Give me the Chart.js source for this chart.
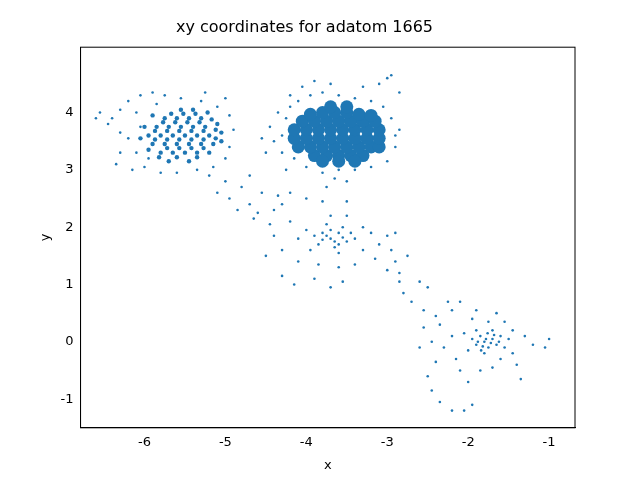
<!DOCTYPE html>
<html><head><meta charset="utf-8">
<script src="https://cdn.jsdelivr.net/npm/chart.js@4/dist/chart.umd.min.js"></script>
<style>html,body{margin:0;background:#fff}#w{width:640px;height:480px}</style>
</head><body><div id="w"><canvas id="c"></canvas></div>
<script>
const title = "xy coordinates for adatom 1665";
const xTicks = [-6,-5,-4,-3,-2,-1];
const yTicks = [-1,0,1,2,3,4];
// dense core of the big cluster (drawn with larger markers)
const corePoints = [
[-3.9,3.25],[-3.75,3.25],[-3.6,3.25],[-3.45,3.25],[-3.3,3.25],[-3.8,3.15],[-3.6,3.15],[-3.4,3.15],
[-4.1,3.4],[-3.95,3.4],[-3.8,3.4],[-3.65,3.4],[-3.5,3.4],[-3.35,3.4],[-3.2,3.4],[-3.1,3.4],
[-4.15,3.55],[-4.0,3.55],[-3.85,3.55],[-3.7,3.55],[-3.55,3.55],[-3.4,3.55],[-3.25,3.55],[-3.1,3.55],
[-4.15,3.7],[-4.0,3.7],[-3.85,3.7],[-3.7,3.7],[-3.55,3.7],[-3.4,3.7],[-3.25,3.7],[-3.1,3.7],
[-4.05,3.85],[-3.9,3.85],[-3.75,3.85],[-3.6,3.85],[-3.45,3.85],[-3.3,3.85],[-3.15,3.85],
[-3.95,3.97],[-3.8,4.0],[-3.65,4.0],[-3.5,4.0],[-3.35,3.97],[-3.2,3.95],[-3.7,4.1],[-3.5,4.1]];
// left cluster, medium density core
const leftCore = [
[-5.8,3.3],[-5.65,3.3],[-5.5,3.3],[-5.35,3.3],[-5.2,3.3],
[-5.9,3.45],[-5.75,3.45],[-5.6,3.45],[-5.45,3.45],[-5.3,3.45],[-5.15,3.45],[-5.05,3.5],
[-5.95,3.6],[-5.8,3.6],[-5.65,3.6],[-5.5,3.6],[-5.35,3.6],[-5.2,3.6],[-5.05,3.65],
[-5.85,3.75],[-5.7,3.75],[-5.55,3.75],[-5.4,3.75],[-5.25,3.75],[-5.1,3.8],
[-5.75,3.9],[-5.6,3.9],[-5.45,3.9],[-5.3,3.9],[-5.55,4.05],[-5.4,4.05],[-5.7,3.15],[-5.45,3.15],
[-5.72,3.38],[-5.57,3.38],[-5.42,3.38],[-5.27,3.38],[-5.87,3.53],[-5.72,3.53],[-5.57,3.53],[-5.42,3.53],[-5.27,3.53],[-5.12,3.55],
[-5.87,3.68],[-5.72,3.68],[-5.57,3.68],[-5.42,3.68],[-5.27,3.68],[-5.12,3.7],[-5.77,3.83],[-5.62,3.83],[-5.47,3.83],[-5.32,3.83],[-5.17,3.88],
[-5.67,3.98],[-5.52,3.98],[-5.37,3.98],[-5.22,4.0],[-5.82,3.22],[-5.6,3.22],[-5.35,3.22],[-5.95,3.35],[-6.05,3.55],[-6.0,3.75],[-5.9,3.95]];
// scattered points
const scatterPoints = [
[-4.3,3.6],[-4.25,3.9],[-4.3,3.3],[-4.2,4.1],[-4.1,4.2],[-3.95,4.3],[-3.8,4.35],[-3.6,4.3],[-3.4,4.25],[-3.2,4.2],[-3.05,4.1],[-2.95,3.9],[-2.9,3.6],[-2.9,3.4],[-3.0,3.15],[-3.2,3.05],[-3.4,3.0],[-3.6,3.0],[-3.8,2.95],[-4.0,3.05],[-4.15,3.2],[-4.4,3.5],[-4.45,3.75],[-3.1,4.5],[-3.0,4.6],[-2.95,4.65],[-3.3,4.45],[-3.7,4.5],[-3.9,4.55],[-4.05,4.45],[-4.2,4.3],[-4.35,4.0],[-4.5,3.3],[-4.55,3.55],[-2.85,3.7],[-3.65,2.85],[-3.75,2.7],[-3.5,2.8],[-4.25,3.0],[-2.85,4.35],
[-6.4,3.9],[-6.45,3.8],[-6.3,4.05],[-6.2,4.2],[-6.05,4.3],[-5.9,4.35],[-5.75,4.3],[-5.55,4.25],[-5.3,4.2],[-5.1,4.1],[-5.0,4.25],[-4.95,3.95],[-4.9,3.7],[-4.95,3.4],[-5.0,3.2],[-5.15,3.05],[-5.35,3.0],[-5.6,2.95],[-5.8,2.95],[-6.0,3.05],[-6.1,3.3],[-6.2,3.55],[-6.3,3.3],[-6.35,3.1],[-6.15,3.0],[-6.05,3.75],[-6.1,4.0],[-6.3,3.65],[-5.85,4.15],[-5.25,4.35],[-5.0,2.8],[-5.1,2.6],[-4.95,2.5],[-4.8,2.7],[-4.7,2.9],[-4.85,2.3],[-4.7,2.4],[-4.6,2.25],[-6.6,3.9],[-6.55,4.0],[-5.95,3.2],[-5.2,2.9],
[-3.7,1.8],[-3.6,1.9],[-3.8,1.9],[-3.5,1.75],[-3.65,1.65],[-3.85,1.7],[-3.55,2.0],[-3.75,2.05],[-3.45,1.9],[-3.9,1.85],[-3.6,1.55],[-3.4,1.8],[-4.0,1.95],[-3.7,2.2],[-3.5,2.2],[-3.3,2.0],[-3.3,1.6],[-3.95,1.6],[-4.1,1.8],[-4.2,2.1],[-4.3,2.4],[-4.0,2.5],[-3.8,2.45],[-3.5,2.45],[-3.2,1.9],[-3.1,1.7],[-3.0,1.85],[-2.95,1.6],[-3.15,1.45],[-3.4,1.35],[-3.6,1.3],[-3.85,1.35],[-4.1,1.4],[-4.3,1.6],[-4.4,1.85],[-4.45,2.05],[-4.3,1.15],[-4.15,1.0],[-3.9,1.1],[-3.7,0.95],[-3.55,1.05],[-4.5,1.5],[-2.9,1.4],[-2.85,1.2],[-3.0,1.25],[-2.6,1.05],[-2.5,0.95],[-2.9,1.9],
[-3.65,1.75],[-3.75,1.85],[-3.55,1.82],[-3.7,1.95],[-3.6,1.7],[-3.8,1.78],
[-1.8,0.0],[-1.7,0.05],[-1.9,-0.05],[-1.75,-0.1],[-1.85,0.1],[-1.65,-0.05],[-1.95,0.05],[-1.6,0.1],[-1.7,0.2],[-1.9,0.2],[-1.55,-0.1],[-1.8,-0.2],[-2.0,-0.15],[-2.05,0.15],[-1.5,0.05],[-1.45,-0.2],[-1.6,-0.3],[-1.75,0.35],[-1.95,0.4],[-1.55,0.35],[-2.2,0.1],[-2.3,-0.1],[-2.15,-0.3],[-2.35,0.3],[-2.4,-0.35],[-2.2,0.55],[-2.1,0.7],[-2.25,0.7],[-1.9,0.55],[-1.65,0.5],[-2.45,0.0],[-2.5,-0.6],[-2.45,-0.85],[-2.35,-1.05],[-2.2,-1.2],[-2.05,-1.2],[-1.95,-1.1],[-2.0,-0.7],[-1.85,-0.5],[-1.4,-0.4],[-1.35,-0.65],[-1.45,0.2],[-1.3,0.1],[-1.2,-0.05],[-1.0,0.05],[-1.05,-0.1],[-2.55,0.25],[-2.6,-0.1],[-1.7,-0.45],[-2.1,-0.5],
[-1.78,0.05],[-1.72,-0.02],[-1.82,-0.08],[-1.68,0.12],[-1.88,0.0],[-1.62,0.0],[-1.76,0.15],[-1.84,-0.15],
[-4.55,2.6],[-4.65,2.15],[-4.4,2.3],[-4.35,2.55],[-4.2,2.6],[-2.8,0.85],[-2.7,0.7],[-2.55,0.55],[-2.4,0.45],[-2.75,1.5],[-2.85,1.05]
];
const color = "#1f77b4";
new Chart(document.getElementById("c"), {
  type: "scatter",
  data: { datasets: [
    { data: corePoints.map(p=>({x:p[0],y:p[1]})), backgroundColor: color, borderWidth:0, pointRadius: 6.5 },
    { data: leftCore.map(p=>({x:p[0],y:p[1]})), backgroundColor: color, borderWidth:0, pointRadius: 2.2 },
    { data: scatterPoints.map(p=>({x:p[0],y:p[1]})), backgroundColor: color, borderWidth:0, pointRadius: 1.3 }
  ]},
  options: {
    responsive:true, maintainAspectRatio:false, animation:false,
    layout:{padding:{left:34,right:65,top:14,bottom:3}},
    plugins:{legend:{display:false}, tooltip:{enabled:false},
      title:{display:true,text:title,color:"#000",font:{family:"DejaVu Sans",size:16,weight:"normal"},padding:{top:4,bottom:10}}},
    scales:{
      x:{type:"linear",min:-6.79,max:-0.68,afterBuildTicks:a=>{a.ticks=xTicks.map(v=>({value:v}));},
        grid:{display:false,drawTicks:true,tickColor:"#000",tickLength:4},border:{color:"#000"},
        ticks:{color:"#000",font:{family:"DejaVu Sans",size:13}},
        title:{display:true,text:"x",color:"#000",font:{family:"DejaVu Sans",size:13}}},
      y:{type:"linear",min:-1.5,max:5.14,afterBuildTicks:a=>{a.ticks=yTicks.map(v=>({value:v}));},
        grid:{display:false,drawTicks:true,tickColor:"#000",tickLength:4},border:{color:"#000"},
        ticks:{color:"#000",font:{family:"DejaVu Sans",size:13}},
        title:{display:true,text:"y",color:"#000",font:{family:"DejaVu Sans",size:13}}}
    }
  },
  plugins:[{id:"frame",afterDraw(ch){const a=ch.chartArea,c=ch.ctx;c.save();c.strokeStyle="#000";c.lineWidth=1;c.strokeRect(a.left,a.top,a.right-a.left,a.bottom-a.top);c.restore();}}]
});
</script></body></html>
